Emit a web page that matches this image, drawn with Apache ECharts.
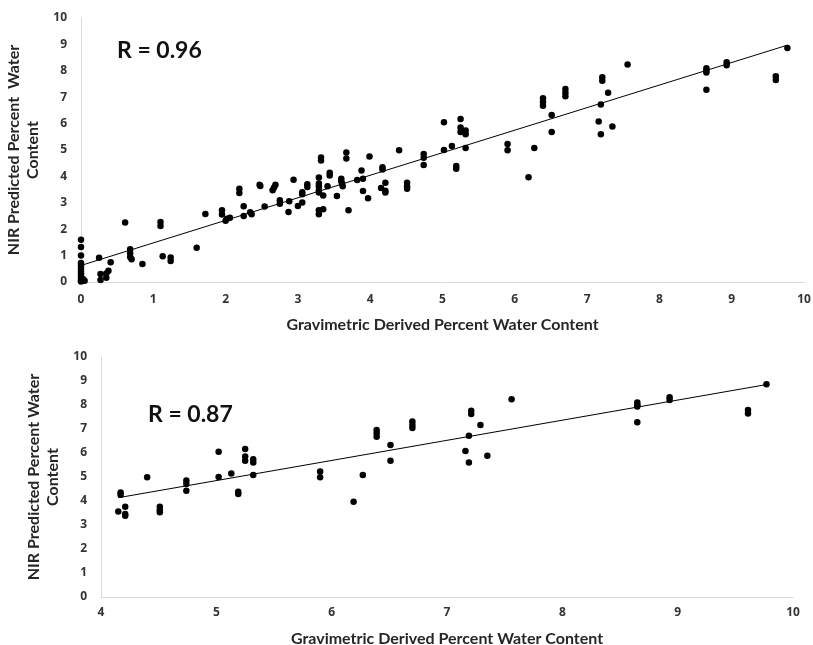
<!DOCTYPE html>
<html>
<head>
<meta charset="utf-8">
<script src="https://cdn.jsdelivr.net/npm/echarts@6/dist/echarts.min.js"></script>
<style>
  html, body { margin: 0; padding: 0; background: #fff; }
  #chart { width: 813px; height: 645px; }
</style>
</head>
<body>
<div id="chart"></div>
<script>
// gravimetric (x) vs NIR predicted (y), samples below 4.1 %
const lowX = [0, 0, 0, 0, 0, 0, 0, 0, 0, 0, 0, 0, 0.03, 0.05,
    0.25, 0.27, 0.27, 0.35, 0.35, 0.38, 0.41, 0.61, 0.68, 0.68, 0.68, 0.7, 0.85,
    1.1, 1.1, 1.13, 1.24, 1.24, 1.6, 1.72, 1.95, 1.95, 2.0, 2.02, 2.06,
    2.19, 2.19, 2.25, 2.25, 2.34, 2.36, 2.47, 2.48, 2.54, 2.65, 2.67, 2.69,
    2.75, 2.75, 2.87, 2.88, 2.94, 3.0, 3.06, 3.06, 3.06, 3.13, 3.13,
    3.29, 3.29, 3.29, 3.29, 3.29, 3.29, 3.29, 3.32, 3.32, 3.35, 3.35, 3.41,
    3.44, 3.44, 3.54, 3.6, 3.6, 3.61, 3.62, 3.67, 3.67, 3.7, 3.82, 3.88,
    3.9, 3.9, 3.97, 3.99];
const lowY = [1.6, 1.33, 1.0, 0.72, 0.62, 0.52, 0.42, 0.33, 0.23, 0.13, 0.05, 0.02, 0.1, 0.05,
    0.92, 0.08, 0.3, 0.32, 0.16, 0.43, 0.75, 2.25, 1.24, 1.09, 0.95, 0.86, 0.68,
    2.27, 2.12, 0.98, 0.93, 0.8, 1.3, 2.58, 2.72, 2.56, 2.32, 2.4, 2.43,
    3.53, 3.37, 2.87, 2.5, 2.64, 2.57, 3.68, 3.64, 2.86, 3.48, 3.58, 3.68,
    3.1, 2.96, 2.65, 3.06, 3.87, 2.88, 3.4, 3.32, 3.01, 3.7, 3.6,
    3.96, 3.73, 3.63, 3.48, 3.39, 2.72, 2.57, 4.72, 4.6, 3.28, 2.76, 3.63,
    4.14, 4.03, 3.26, 3.91, 3.82, 3.73, 3.63, 4.91, 4.68, 2.72, 3.86, 4.22,
    3.91, 3.45, 3.17, 4.75];

// samples at 4.1 % and above (shown in both panels)
const highX = [4.15, 4.17, 4.17, 4.21, 4.21, 4.21, 4.4, 4.51, 4.51, 4.51,
    4.74, 4.74, 4.74, 5.02, 5.02, 5.13, 5.19, 5.19, 5.25, 5.25, 5.25,
    5.32, 5.32, 5.32, 5.9, 5.9, 6.19, 6.27, 6.39, 6.39, 6.39, 6.51, 6.51,
    6.7, 6.7, 6.7, 7.16, 7.19, 7.19, 7.21, 7.21, 7.29, 7.35, 7.56,
    8.65, 8.65, 8.65, 8.65, 8.93, 8.93, 9.61, 9.61, 9.77];
const highY = [3.56, 4.35, 4.26, 3.76, 3.46, 3.39, 4.99, 3.76, 3.62, 3.53,
    4.85, 4.71, 4.43, 6.05, 5.0, 5.15, 4.39, 4.29, 6.17, 5.85, 5.68,
    5.74, 5.6, 5.08, 5.23, 4.99, 3.97, 5.08, 6.96, 6.82, 6.68, 6.33, 5.68,
    7.31, 7.17, 7.04, 6.08, 6.72, 5.6, 7.76, 7.62, 7.17, 5.89, 8.24,
    8.1, 8.0, 7.94, 7.28, 8.32, 8.21, 7.79, 7.65, 8.86];

const rLabels = ['R = 0.96', 'R = 0.87'];
const xTitle = 'Gravimetric Derived Percent Water Content';
const yTitles = ['NIR Predicted Percent  Water\nContent', 'NIR Predicted Percent Water\nContent'];

function pairs(xs, ys) {
    return xs.map((x, i) => [x, ys[i]]);
}

// least squares trendline, drawn across the range of x
function trend(xs, ys) {
    const n = xs.length;
    let sx = 0, sy = 0, sxx = 0, sxy = 0;
    for (let i = 0; i < n; i++) {
        sx += xs[i]; sy += ys[i]; sxx += xs[i] * xs[i]; sxy += xs[i] * ys[i];
    }
    const b = (n * sxy - sx * sy) / (n * sxx - sx * sx);
    const a = (sy - b * sx) / n;
    const x0 = Math.min(...xs), x1 = Math.max(...xs);
    return [[x0, a + b * x0], [x1, a + b * x1]];
}

const allX = lowX.concat(highX);
const allY = lowY.concat(highY);

const font = 'Lato, "Open Sans", sans-serif';
const tickLabel = { color: '#333', fontWeight: 'bold', fontSize: 12, fontFamily: '"Open Sans", sans-serif' };
const titleStyle = { color: '#262626', fontWeight: 'bold', fontSize: 16, fontFamily: font, lineHeight: 19 };
const axisLine = { show: true, lineStyle: { color: '#d9d9d9', width: 1 } };

function xAxis(idx, min, gap, margin) {
    return {
        type: 'value', gridIndex: idx, min: min, max: 10, interval: 1,
        name: xTitle, nameLocation: 'middle', nameGap: gap, nameTextStyle: titleStyle,
        axisLine: axisLine, axisTick: { show: false }, splitLine: { show: false },
        axisLabel: Object.assign({ margin: margin }, tickLabel)
    };
}
function yAxis(idx, title, gap) {
    return {
        type: 'value', gridIndex: idx, min: 0, max: 10, interval: 1,
        name: title, nameLocation: 'middle', nameGap: gap, nameTextStyle: titleStyle,
        axisLine: axisLine, axisTick: { show: false }, splitLine: { show: false },
        axisLabel: Object.assign({ margin: 14 }, tickLabel)
    };
}

const chart = echarts.init(document.getElementById('chart'));
chart.setOption({
    animation: false,
    backgroundColor: '#fff',
    grid: [
        { left: 81, top: 18, right: 9, bottom: 363, containLabel: false, outerBoundsMode: 'none' },
        { left: 101, top: 357, right: 20, bottom: 48, containLabel: false, outerBoundsMode: 'none' }
    ],
    xAxis: [xAxis(0, 0, 33, 12), xAxis(1, 4, 32, 10)],
    yAxis: [yAxis(0, yTitles[0], 31), yAxis(1, yTitles[1], 33)],
    graphic: [
        { type: 'text', left: 117, top: 39, style: { text: rLabels[0], font: 'bold 23px ' + font, fill: '#111' } },
        { type: 'text', left: 148, top: 403, style: { text: rLabels[1], font: 'bold 23px ' + font, fill: '#111' } }
    ],
    series: [
        {
            type: 'scatter', xAxisIndex: 0, yAxisIndex: 0, symbolSize: 6.5,
            itemStyle: { color: '#000', opacity: 1 }, data: pairs(allX, allY)
        },
        {
            type: 'line', xAxisIndex: 0, yAxisIndex: 0, symbol: 'none', silent: true,
            lineStyle: { color: '#000', width: 1 }, data: trend(allX, allY)
        },
        {
            type: 'scatter', xAxisIndex: 1, yAxisIndex: 1, symbolSize: 6.5,
            itemStyle: { color: '#000', opacity: 1 }, data: pairs(highX, highY)
        },
        {
            type: 'line', xAxisIndex: 1, yAxisIndex: 1, symbol: 'none', silent: true,
            lineStyle: { color: '#000', width: 1 }, data: trend(highX, highY)
        }
    ]
});
</script>
</body>
</html>
